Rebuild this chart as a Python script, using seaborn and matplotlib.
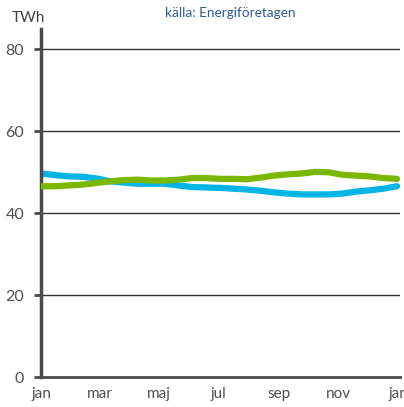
import numpy as np
import pandas as pd
import matplotlib
matplotlib.use("Agg")
import matplotlib.pyplot as plt
import seaborn as sns

# biweekly samples, day of year
days = list(range(0, 365, 14))

blue_twh = [49.7, 49.3, 49.0, 48.9, 48.5, 47.8, 47.5, 47.2, 47.2, 47.2, 46.8, 46.4, 46.3, 46.2,
            46.0, 45.8, 45.5, 45.1, 44.8, 44.6, 44.6, 44.6, 44.8, 45.3, 45.6, 46.0, 46.6]
green_twh = [46.6, 46.6, 46.8, 47.0, 47.4, 47.8, 48.1, 48.2, 48.0, 48.0, 48.2, 48.6, 48.6, 48.4,
             48.4, 48.3, 48.7, 49.2, 49.5, 49.7, 50.1, 50.0, 49.4, 49.2, 49.0, 48.6, 48.4]

month_ticks = [0, 59, 120, 181, 243, 304, 365]
month_labels = ["jan", "mar", "maj", "jul", "sep", "nov", "jan"]
y_ticks = [0, 20, 40, 60, 80]

df = pd.DataFrame({"day": days, "blue": blue_twh, "green": green_twh})

sns.set_style("white")
plt.rcParams["font.family"] = ["Lato", "DejaVu Sans"]

fig = plt.figure(figsize=(4.04, 4.07), dpi=100)
ax = fig.add_axes([0.1015, 0.0737, 0.8885, 0.855])

for y in y_ticks[1:]:
    ax.axhline(y, color="#333333", lw=1, zorder=1)

sns.lineplot(data=df, x="day", y="green", ax=ax, color="#7ab800", lw=4.5, zorder=3)
sns.lineplot(data=df, x="day", y="blue", ax=ax, color="#00b4e6", lw=4.5, zorder=2)

ax.set_xlim(-1, 367)
ax.set_ylim(0, 85)
ax.set_xticks(month_ticks)
ax.set_xticklabels(month_labels)
ax.set_yticks(y_ticks)
ax.set_xlabel("")
ax.set_ylabel("")

for s in ["top", "right"]:
    ax.spines[s].set_visible(False)
ax.spines["left"].set_color("#4a4a4a")
ax.spines["left"].set_linewidth(2.5)
ax.spines["bottom"].set_color("#4a4a4a")
ax.spines["bottom"].set_linewidth(2)

ax.tick_params(axis="y", length=5, width=2, color="#4a4a4a", labelsize=11.5,
               labelcolor="#505050", pad=7, left=True)
ax.tick_params(axis="x", length=0, labelsize=11, labelcolor="#505050", pad=7)

fig.text(0.07, 0.955, "TWh", fontsize=11, color="#404040", ha="center", va="center")
fig.text(0.57, 0.968, "källa: Energiföretagen", fontsize=9.8, color="#2e5c9a",
         ha="center", va="center")

fig.savefig("out.png", dpi=100)
plt.close(fig)
